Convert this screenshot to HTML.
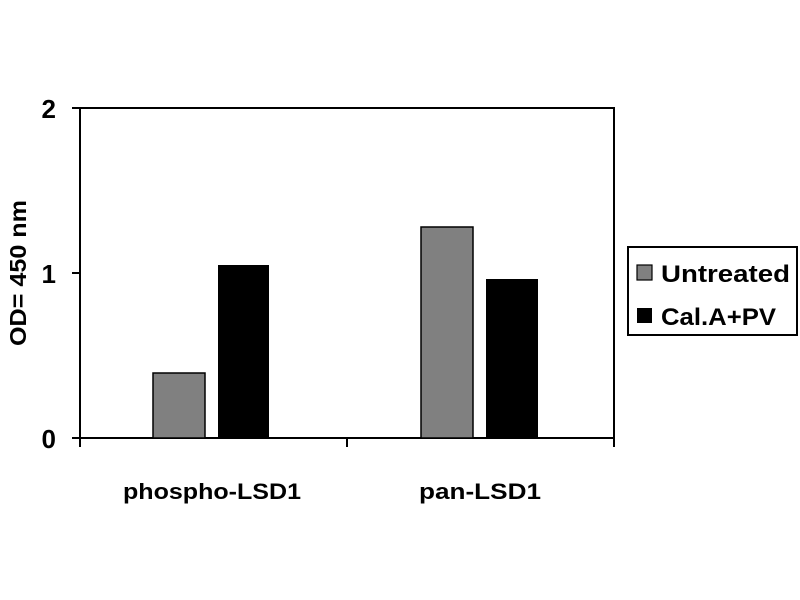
<!DOCTYPE html>
<html><head><style>html,body{margin:0;padding:0;background:#fff;}svg{display:block;}</style></head>
<body>
<svg width="800" height="600" xmlns="http://www.w3.org/2000/svg" font-family="'Liberation Sans', sans-serif" font-weight="bold">
<rect width="800" height="600" fill="#fff"/>
<rect x="80" y="108" width="534" height="330" fill="none" stroke="#000" stroke-width="2"/>
<line x1="72" y1="108" x2="80" y2="108" stroke="#000" stroke-width="2"/>
<line x1="72" y1="273" x2="80" y2="273" stroke="#000" stroke-width="2"/>
<line x1="72" y1="438" x2="80" y2="438" stroke="#000" stroke-width="2"/>
<line x1="80" y1="438" x2="80" y2="447" stroke="#000" stroke-width="2"/>
<line x1="347" y1="438" x2="347" y2="447" stroke="#000" stroke-width="2"/>
<line x1="614" y1="438" x2="614" y2="447" stroke="#000" stroke-width="2"/>
<rect x="153" y="373" width="52" height="65" fill="#808080" stroke="#000" stroke-width="1.5"/>
<rect x="218" y="265" width="51" height="173" fill="#000"/>
<rect x="421" y="227" width="52" height="211" fill="#808080" stroke="#000" stroke-width="1.5"/>
<rect x="486" y="279" width="52" height="159" fill="#000"/>
<g font-size="26" text-anchor="end">
<text x="56" y="118">2</text>
<text x="56" y="283">1</text>
<text x="56" y="448">0</text>
</g>
<text transform="translate(26,273) rotate(-90)" font-size="23" text-anchor="middle" textLength="146" lengthAdjust="spacingAndGlyphs">OD= 450 nm</text>
<g font-size="22" text-anchor="middle">
<text x="212" y="499" textLength="178" lengthAdjust="spacingAndGlyphs">phospho-LSD1</text>
<text x="480" y="499" textLength="122" lengthAdjust="spacingAndGlyphs">pan-LSD1</text>
</g>
<rect x="628" y="247" width="169" height="88" fill="#fff" stroke="#000" stroke-width="2"/>
<rect x="637" y="265" width="15" height="15" fill="#808080" stroke="#000" stroke-width="1.2"/>
<rect x="637" y="308" width="15" height="15" fill="#000"/>
<g font-size="24">
<text x="661" y="282" textLength="129" lengthAdjust="spacingAndGlyphs">Untreated</text>
<text x="661" y="325" textLength="115" lengthAdjust="spacingAndGlyphs">Cal.A+PV</text>
</g>
</svg>
</body></html>
